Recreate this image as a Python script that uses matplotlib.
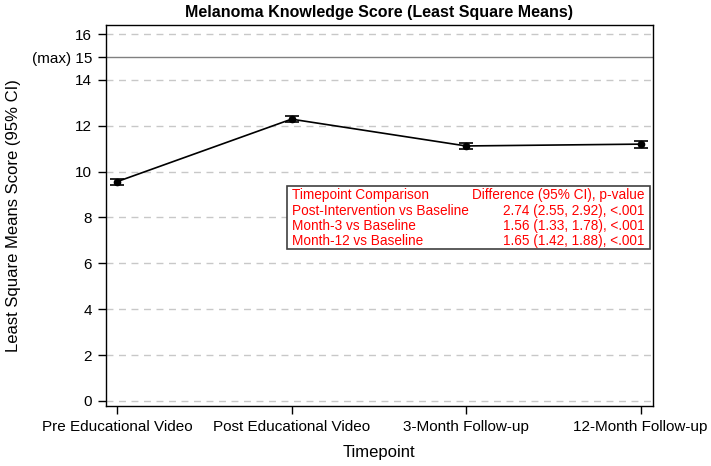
import matplotlib.pyplot as plt

timepoints = ['Pre Educational Video', 'Post Educational Video', '3-Month Follow-up', '12-Month Follow-up']
lsmeans = [9.56, 12.29, 11.12, 11.20]
ci_half = [0.14, 0.14, 0.14, 0.15]

yticks = [0, 2, 4, 6, 8, 10, 12, 14, 15, 16]
ytick_labels = ['0', '2', '4', '6', '8', '10', '12', '14', '(max) 15', '16']
max_score = 15

comparisons = ['Timepoint Comparison', 'Post-Intervention vs Baseline', 'Month-3 vs Baseline', 'Month-12 vs Baseline']
differences = ['Difference (95% CI), p-value', '2.74 (2.55, 2.92), <.001', '1.56 (1.33, 1.78), <.001', '1.65 (1.42, 1.88), <.001']

plt.rcParams['font.family'] = ['Liberation Sans', 'DejaVu Sans']

fig = plt.figure(figsize=(7.11, 4.66), dpi=100)
ax = fig.add_axes([0.149, 0.129, 0.769, 0.817])

x = list(range(len(timepoints)))
for yv in [0, 2, 4, 6, 8, 10, 12, 14, 16]:
    ax.axhline(yv, color='#c8c8c8', linestyle=(0, (5, 4)), linewidth=1, zorder=0)
ax.axhline(max_score, color='#808080', linewidth=1, zorder=1)

ax.errorbar(x, lsmeans, yerr=ci_half, color='black', marker='o', markersize=4.5,
            linewidth=1.2, capsize=5, capthick=1.2, elinewidth=1.2, zorder=3)

ax.set_xlim(-0.063, 3.069)
ax.set_ylim(-0.22, 16.39)
ax.set_xticks(x)
ax.set_xticklabels(timepoints, fontsize=11)
ax.set_yticks(yticks)
ax.set_yticklabels(ytick_labels, fontsize=11)
ax.tick_params(direction='out', length=6, width=1, pad=4)
for s in ax.spines.values():
    s.set_linewidth(1)

ax.set_xlabel('Timepoint', fontsize=12, labelpad=8)
ax.set_ylabel('Least Square Means Score (95% CI)', fontsize=12, labelpad=8)
ax.set_title('Melanoma Knowledge Score (Least Square Means)', fontsize=11.5, fontweight='bold', pad=6)

# comparison table box
box = plt.Rectangle((0.331, 0.412), 0.664, 0.165, transform=ax.transAxes,
                    facecolor='white', edgecolor='#404040', linewidth=1.2, zorder=4)
ax.add_patch(box)
row_y = [0.554, 0.513, 0.473, 0.432]
for i in range(len(comparisons)):
    ax.text(0.340, row_y[i], comparisons[i], transform=ax.transAxes, color='red',
            fontsize=9.8, ha='left', va='center', zorder=5)
    ax.text(0.985, row_y[i], differences[i], transform=ax.transAxes, color='red',
            fontsize=9.8, ha='right', va='center', zorder=5)

fig.savefig('out.png', dpi=100)
